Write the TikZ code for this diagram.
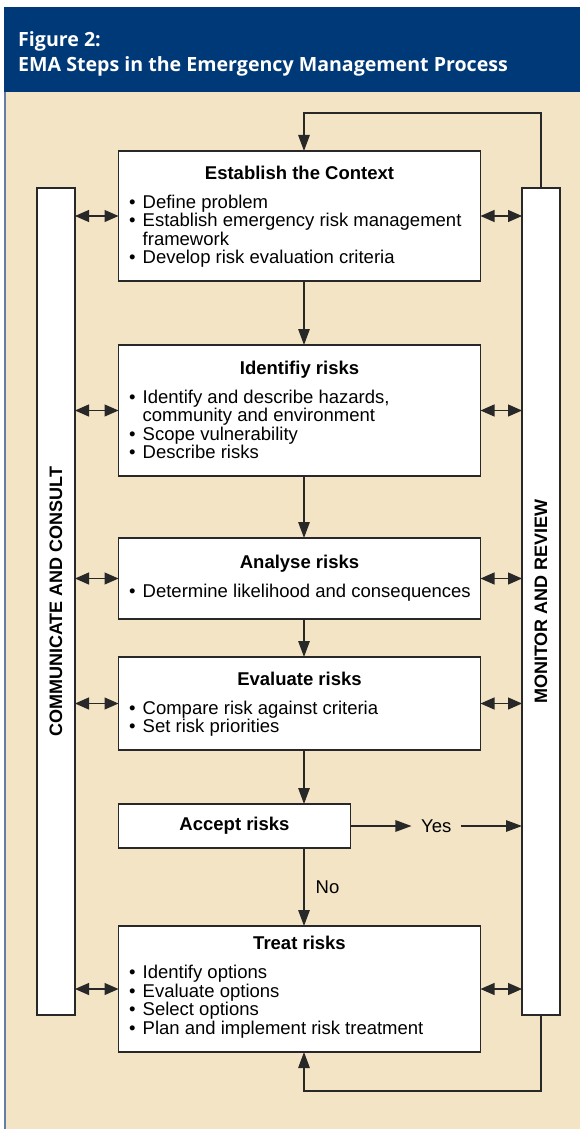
\documentclass[tikz,border=0pt]{standalone}
\usepackage{fontspec}
\setmainfont{Liberation Sans}
\newfontfamily\headfont{Open Sans}
\usetikzlibrary{arrows.meta, positioning, calc}
\definecolor{headblue}{RGB}{0,57,120}
\definecolor{sand}{RGB}{243,228,198}
\definecolor{rim}{RGB}{96,128,168}
\definecolor{ink}{RGB}{40,40,40}
\newcommand{\itemlines}[1]{\vtop{\baselineskip=18.5pt\lineskiplimit=-20pt\halign{##\hfil\cr#1\crcr}}}
\newcommand{\bul}{\makebox[13.5pt][l]{\textbullet}}

\begin{document}
\begin{tikzpicture}[x=1pt, y=-1pt,
      font=\fontsize{18.5}{18.5}\selectfont,
      stagebox/.style={rectangle, draw=ink, line width=1.4pt, fill=white,
                       minimum width=362pt, inner sep=0pt, outer sep=0pt},
      sidebar/.style={rectangle, draw=ink, line width=1.4pt, fill=white,
                      minimum width=38pt, minimum height=827pt, inner sep=0pt, outer sep=0pt},
      steptitle/.style={anchor=base, inner sep=0pt, font=\fontsize{18.5}{18.5}\selectfont\bfseries},
      steplist/.style={anchor=base west, inner sep=0pt},
      arr/.style={-{Triangle[length=16pt,width=11.5pt]}, line width=1.3pt, draw=ink},
      dblarr/.style={{Triangle[length=14pt,width=12pt]}-{Triangle[length=14pt,width=12pt]},
                     line width=1.2pt, draw=ink}
    ]
    \useasboundingbox (0,0) rectangle (580,1129);
    % frame and heading
    \fill[sand] (4,92) rectangle (580,1129);
    \fill[headblue] (4,7) rectangle (580,92);
    \draw[rim, line width=1.5pt] (5,92) -- (5,1129);
    \node[anchor=base west, inner sep=0pt, text=white,
          font=\headfont\fontsize{19.6}{24}\selectfont\bfseries] (fig) at (18,47) {Figure 2:};
    \node[anchor=base west, inner sep=0pt, text=white,
          font=\headfont\fontsize{19.6}{24}\selectfont\bfseries] (caption) at (18,72)
          {EMA Steps in the Emergency Management Process};

    % side columns
    \node[sidebar] (comm) at (56,601.5) {};
    \node[sidebar] (mon) at (541,601.5) {};
    \node[rotate=90, inner sep=0pt, font=\fontsize{18}{18}\selectfont\bfseries] at (comm) {COMMUNICATE AND CONSULT};
    \node[rotate=90, inner sep=0pt, font=\fontsize{18}{18}\selectfont\bfseries] at (mon) {MONITOR AND REVIEW};

    % steps
    \node[stagebox, minimum height=130pt, anchor=north west] (ctx) at (118.5,151) {};
    \node[stagebox, minimum height=131pt, below=64pt of ctx.south west, anchor=north west] (ident) {};
    \node[stagebox, minimum height=81pt, below=62pt of ident.south west, anchor=north west] (anal) {};
    \node[stagebox, minimum height=93pt, below=38pt of anal.south west, anchor=north west] (eval) {};
    \node[stagebox, minimum width=232pt, minimum height=44pt, below=54pt of eval.south west,
          anchor=north west, font=\fontsize{18.5}{18.5}\selectfont\bfseries] (accept) {Accept risks};
    \node[stagebox, minimum height=126pt, below=78pt of accept.south west, anchor=north west] (treat) {};

    \node[steptitle] (ctxT) at ($(ctx.north)+(0,28)$) {Establish the Context};
    \node[steplist] (ctxL) at ($(ctx.north west)+(10.5,57)$) {\itemlines{\bul Define problem\cr
      \bul Establish emergency risk management\cr \hspace*{13.5pt}framework\cr
      \bul Develop risk evaluation criteria}};
    \node[steptitle] (identT) at ($(ident.north)+(0,29)$) {Identifiy risks};
    \node[steplist] (identL) at ($(ident.north west)+(10.5,58)$) {\itemlines{\bul Identify and describe hazards,\cr
      \hspace*{13.5pt}community and environment\cr \bul Scope vulnerability\cr \bul Describe risks}};
    \node[steptitle] (analT) at ($(anal.north)+(0,30)$) {Analyse risks};
    \node[steplist] (analL) at ($(anal.north west)+(10.5,59)$) {\itemlines{\bul Determine likelihood and consequences}};
    \node[steptitle] (evalT) at ($(eval.north)+(0,28)$) {Evaluate risks};
    \node[steplist] (evalL) at ($(eval.north west)+(10.5,57)$) {\itemlines{\bul Compare risk against criteria\cr
      \bul Set risk priorities}};
    \node[steptitle] (treatT) at ($(treat.north)+(0,23.5)$) {Treat risks};
    \node[steplist] (treatL) at ($(treat.north west)+(10.5,52.5)$) {\itemlines{\bul Identify options\cr
      \bul Evaluate options\cr \bul Select options\cr \bul Plan and implement risk treatment}};

    % flow
    \coordinate (spine) at (304,0);
    \draw[arr] (ctx.south -| spine) -- (ident.north -| spine);
    \draw[arr] (ident.south -| spine) -- (anal.north -| spine);
    \draw[arr] (anal.south -| spine) -- (eval.north -| spine);
    \draw[arr] (eval.south -| spine) -- (accept.north -| spine);
    \draw[arr] (accept.south -| spine) -- node[right=11pt, inner sep=0pt] (no) {No} (treat.north -| spine);
    \node[inner xsep=9.5pt, inner ysep=0pt] (yes) at ($(accept.east)!0.5!(mon.west |- accept.east)$) {Yes};
    \draw[arr] (accept.east) -- (yes.west);
    \draw[arr] (yes.east) -- (mon.west |- yes.east);

    % links to the side columns
    \foreach \s in {ctx, ident, anal, eval, treat} {
      \draw[dblarr] (comm.east |- \s.west) -- (\s.west);
      \draw[dblarr] (\s.east) -- (mon.west |- \s.east);
    }

    % review loops
    \draw[arr] (mon.north) -- ++(0,-75) -| (ctx.north -| spine);
    \draw[arr] (mon.south) -- ++(0,76) -| (treat.south -| spine);
  \end{tikzpicture}
\end{document}
